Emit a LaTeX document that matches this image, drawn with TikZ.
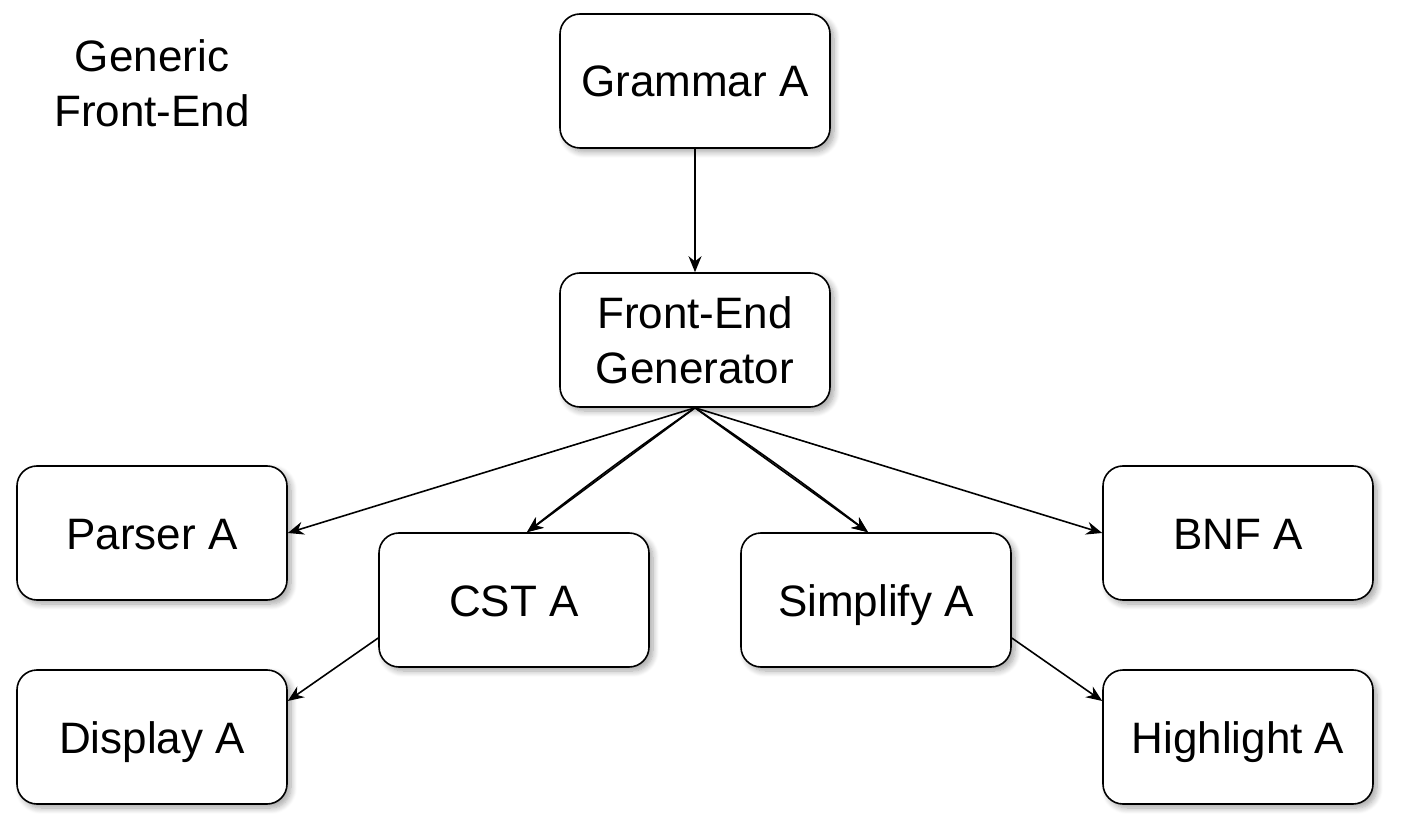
\documentclass[tikz,border=0pt]{standalone}
\usepackage{fontspec}
\setmainfont{Liberation Sans}
\usetikzlibrary{arrows.meta,shadows.blur}

\begin{document}
\begin{tikzpicture}[x=0.5pt,y=-0.5pt,
    box/.style={draw, thick, rounded corners=10pt, fill=white, minimum width=135pt, minimum height=67pt,
        align=center, font=\fontsize{22}{27.5}\selectfont,
        blur shadow={shadow xshift=2pt, shadow yshift=-2pt, shadow blur radius=3pt, shadow opacity=35, shadow blur steps=8}},
    oneline/.style={box, text height=16pt, text depth=0pt},
    arr/.style={thick, -{Stealth[length=8pt,width=6.5pt]}}]

    % Fix the page size
    \useasboundingbox (0,0) rectangle (1408,828);

    % Title
    \node[align=center, font=\fontsize{22}{27.5}\selectfont] (title) at (152,83) {Generic\\Front-End};

    % Draw the boxes
    \node[oneline] (grammar) at (695,81) {Grammar A};
    \node[box] (feg) at (695,340) {Front-End\\Generator};
    \node[oneline] (parser) at (152,533) {Parser A};
    \node[oneline] (cst) at (514,600) {CST A};
    \node[oneline] (simplify) at (876,600) {Simplify A};
    \node[oneline] (bnf) at (1238,533) {BNF A};
    \node[oneline] (display) at (152,737) {Display A};
    \node[oneline] (highlight) at (1238,737) {Highlight A};

    % Arrows
    \draw[arr] (grammar) -- (feg);
    \draw[arr] (feg.south) -- (parser.east);
    \draw[arr] (feg.south) -- ([xshift=6.5pt]cst.north);
    \draw[arr] (feg.south) to[bend right=1.5] ([xshift=6.5pt]cst.north);
    \draw[arr] (feg.south) -- ([xshift=-4pt]simplify.north);
    \draw[arr] (feg.south) to[bend left=1.5] ([xshift=-4pt]simplify.north);
    \draw[arr] (feg.south) -- (bnf.west);

    \draw[arr] ([yshift=-19pt]cst.west) -- ([yshift=18pt]display.east);
    \draw[arr] ([yshift=-19pt]simplify.east) -- ([yshift=18pt]highlight.west);

\end{tikzpicture}
\end{document}
